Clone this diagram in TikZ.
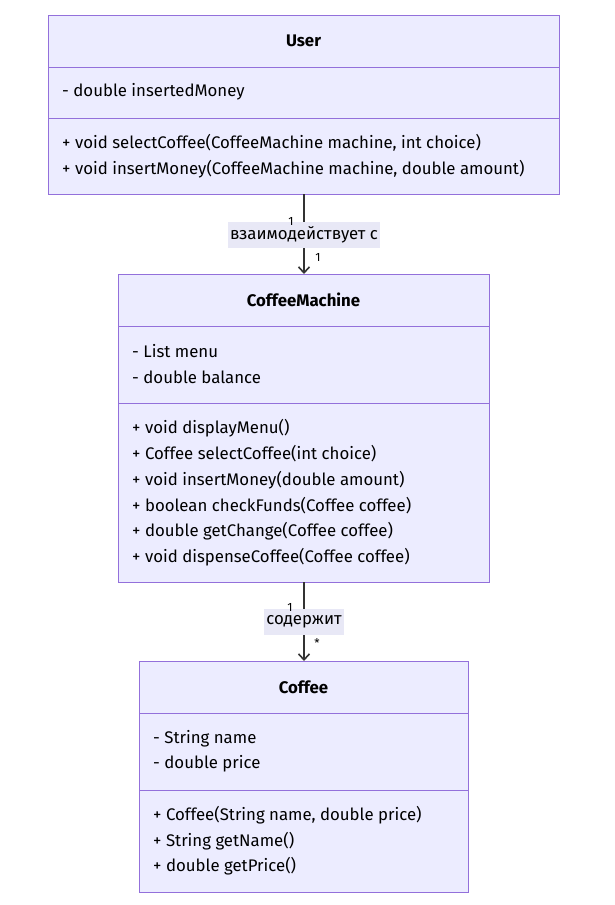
\documentclass[tikz,border=0pt]{standalone}
\usepackage{fontspec}
\setmainfont{Fira Sans}
\usetikzlibrary{arrows.meta}
\definecolor{boxfill}{HTML}{ECECFF}
\definecolor{boxline}{HTML}{9370DB}
\definecolor{edge}{HTML}{333333}
\definecolor{lblbg}{HTML}{E8E8F6}
\tikzset{
  classbox/.style={draw=boxline, fill=boxfill, line width=1pt},
  divider/.style={draw=boxline, line width=1pt},
  title/.style={font=\fontsize{16.8}{20}\selectfont\bfseries, text=black, inner sep=0pt},
  member/.style={font=\fontsize{16.8}{20}\selectfont, text=black, anchor=west, inner sep=0pt},
  conn/.style={draw=edge, line width=1.3pt, -{Straight Barb[length=6pt,width=11pt,line width=1.6pt]}},
  elabel/.style={fill=lblbg, font=\fontsize{16.8}{20}\selectfont, text=black, inner xsep=2pt, inner ysep=0pt, minimum height=26pt},
  card/.style={font=\fontsize{12}{14}\selectfont, text=black, inner sep=0pt}
}
\begin{document}
\begin{tikzpicture}[x=1pt,y=-1pt]
\useasboundingbox (0,0) rectangle (615,905);
% User
\path[classbox] (48,15) rectangle (559,194);
\draw[divider] (48,67) -- (559,67);
\draw[divider] (48,118) -- (559,118);
\node[title] (userT) at (303.5,41) {User};
\node[member] (u1) at (62,92) {- double insertedMoney};
\node[member] (u2) at (62,143) {+ void selectCoffee(CoffeeMachine machine, int choice)};
\node[member] (u3) at (62,169) {+ void insertMoney(CoffeeMachine machine, double amount)};
\coordinate (userB) at (304,194);
% CoffeeMachine
\path[classbox] (118,274) rectangle (489,582);
\draw[divider] (118,326) -- (489,326);
\draw[divider] (118,403) -- (489,403);
\node[title] (cmT) at (303.5,300) {CoffeeMachine};
\node[member] (c1) at (132,351) {- List menu};
\node[member] (c2) at (132,377) {- double balance};
\node[member] (c3) at (132,428) {+ void displayMenu()};
\node[member] (c4) at (132,454) {+ Coffee selectCoffee(int choice)};
\node[member] (c5) at (132,480) {+ void insertMoney(double amount)};
\node[member] (c6) at (132,506) {+ boolean checkFunds(Coffee coffee)};
\node[member] (c7) at (132,531) {+ double getChange(Coffee coffee)};
\node[member] (c8) at (132,557) {+ void dispenseCoffee(Coffee coffee)};
\coordinate (cmTop) at (304,274);
\coordinate (cmB) at (304,582);
% Coffee
\path[classbox] (139,661) rectangle (468,892);
\draw[divider] (139,713) -- (468,713);
\draw[divider] (139,790) -- (468,790);
\node[title] (coT) at (303.5,687) {Coffee};
\node[member] (o1) at (153,739) {- String name};
\node[member] (o2) at (153,764) {- double price};
\node[member] (o3) at (153,815) {+ Coffee(String name, double price)};
\node[member] (o4) at (153,841) {+ String getName()};
\node[member] (o5) at (153,866) {+ double getPrice()};
\coordinate (coTop) at (304,661);
% connectors
\draw[conn] (userB) -- (cmTop);
\node[elabel] (l1) at (304,235) {взаимодействует с};
\node[card] (k1) at (291,221) {1};
\node[card] (k2) at (318,257) {1};
\draw[conn] (cmB) -- (coTop);
\node[elabel] (l2) at (304,622) {содержит};
\node[card] (k3) at (290,607) {1};
\node[card] (k4) at (317,643) {*};
\end{tikzpicture}
\end{document}
